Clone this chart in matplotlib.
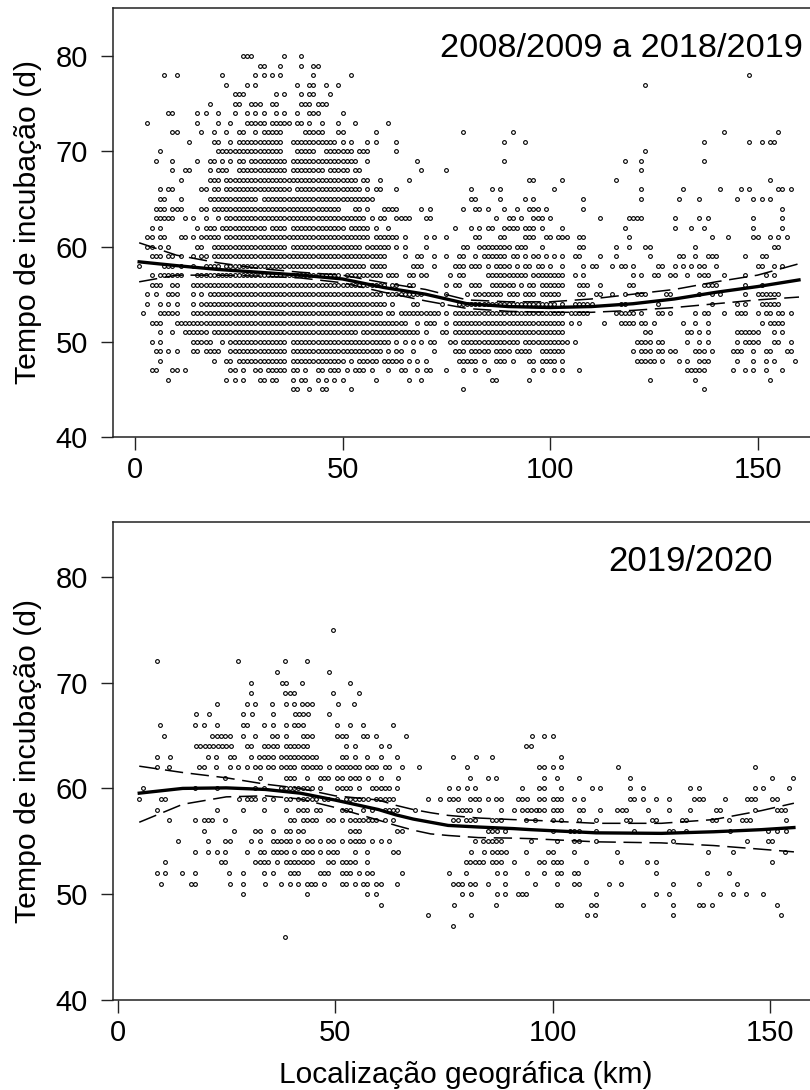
import matplotlib
matplotlib.use("Agg")
from matplotlib import pyplot as plt

plt.rcParams['font.family'] = ['Liberation Sans', 'DejaVu Sans']

# top panel: km positions per incubation-time row, (a, b) is a run of neighbouring km
T45 = [38, 39, 42, 45, 46, 52, 79, 137]
T46 = [8, 22, 24, 26, 30, 31, 33, 34, 38, 40, 41, 44, 46, 48, 50, 58, 66, 69, 86, 87, 95, 124, 135, 153]
T47 = [4, 5, 9, 10, 12, 23, 24, 26, 29, 30, (32, 36), 38, 39, 41, 44, 45, (47, 49), 51, 53, 54, 55, 57, 61, 64, 65, 68,
       70, 71, 75, 79, 82, 85, 96, 98, 101, 103, 107, (133, 137), 144, 147, 149, 152, 156]
T48 = [6, 19, 22, 23, (25, 36), (38, 50), 52, (54, 58), (60, 64), 66, 68, 70, (78, 82), 84, (87, 89), 91, 95, 96,
       (98, 101), 103, (121, 125), 127, 131, 133, (136, 138), 145, 149, 152, 154, 159]
T49 = [5, 6, 8, 10, 14, 15, (17, 20), (23, 36), (38, 59), 61, 63, 64, 67, 72, (77, 79), (81, 85), (87, 90), (92, 95),
       (98, 103), 120, (122, 124), 126, 127, 129, 130, (135, 137), 139, (144, 146), 149, 152, 153, 157, 158]
T50 = [4, 6, (14, 18), 21, (23, 36), (38, 61), 63, 65, 67, 69, 71, 72, 76, 77, (79, 92), (94, 104), 106, (121, 124),
       126, 127, 133, 136, 138, 145, (147, 150), 154, 155, 158]
T51 = [6, 9, (12, 17), (19, 53), (55, 68), 70, 74, 75, (77, 103), 123, 124, 133, 134, 136, 138, (145, 150), 154, 156]
T52 = [(4, 6), (10, 65), 68, (70, 72), 75, (77, 103), 105, 107, 113, (117, 120), 122, 123, 125, 132, 135, 138, 151,
       (153, 156)]
T53 = [2, (6, 10), (14, 59), 61, 62, (64, 73), 75, (77, 103), (105, 109), (116, 120), 122, 126, 127, 129, 135, 137, 138,
       142, (145, 147), 150, 152, 153, 155, 156, 158]
T54 = [3, 6, 8, 10, 14, (16, 60), 62, 67, 68, 74, (78, 101), 103, (106, 110), 117, 118, 126, 139, 145, 147, (151, 155)]
T55 = [3, 5, (8, 10), 14, 16, (18, 59), (61, 69), 75, 80, (82, 88), (90, 92), (94, 96), (98, 102), 107, 108, 111, 112,
       115, 118, (121, 123), 128, 129, 136, 139, 141, 147, (150, 155)]
T56 = [(4, 6), 9, 10, (14, 60), 62, 63, 66, 67, 75, 77, 78, (81, 83), (86, 91), 93, 95, 96, (98, 103), (107, 109), 112,
       119, 120, (137, 140), 147, 151]
T57 = [4, (6, 11), (15, 49), (51, 59), (61, 63), 66, 67, 69, 70, 76, 78, 79, (85, 94), (96, 103), 106, 108, 120, 122,
       125, 126, 129, 130, 133, (136, 138), 142, 147, 152, 154]
T58 = [1, (7, 9), 11, 14, (17, 20), (22, 55), (57, 60), (67, 69), 72, (77, 79), (81, 83), 85, (87, 90), 92, 94, 95, 97,
       98, 100, 103, 108, 110, 111, 115, 117, 118, 120, 126, 127, 130, 132, 134, 136, 137, 140, 150, 151, 154, 156]
T59 = [(4, 6), 8, 9, 11, 14, 16, 17, (19, 60), 65, 68, 69, 72, 75, 78, 79, 82, (84, 89), 91, 92, 94, 96, 97, 99, 101,
       103, 106, 107, 112, 116, 124, 131, 132, 135, (138, 140), 147, 151, 152]
T60 = [3, 4, 6, 8, 15, 16, (19, 36), (38, 54), (56, 61), 63, 65, 70, 79, 80, (83, 90), (92, 94), 98, 107, 108, 116, 119,
       123, 124, 135, 154, 155]
T61 = [3, 4, 6, 7, 11, 12, 14, (16, 20), (22, 56), (58, 63), 65, 70, 72, 75, 82, 83, 88, 89, (94, 96), 99, 100,
       (102, 104), 107, 108, 119, 139, 143, 149, 150, 153, 155, 157]
T62 = [4, 6, 15, (17, 19), (21, 31), (33, 36), (38, 50), (52, 56), 58, 61, 77, 81, 83, 85, 86, (89, 92), (94, 96), 98,
       103, 118, 130, 134, 137, 149, 156]
T63 = [(5, 9), 12, 14, 17, 20, (22, 55), 57, 59, 60, (63, 66), 70, 71, 87, 90, 91, 93, (96, 98), 100, 112, (119, 122),
       130, 136, 138, 149, 156]
T64 = [(5, 7), (9, 11), 16, 17, (19, 49), 53, 54, 56, (60, 63), 69, 71, 79, 82, 83, 85, 89, 92, (95, 97), 99, 108, 156]
T65 = [6, 7, 11, (18, 29), (31, 57), 81, 82, 88, 94, 96, 108, 122, 131, 136, 145, 149, 151, 153]
T66 = [6, 8, 9, 16, 17, 19, 20, (22, 37), (39, 54), 56, 58, 59, 63, 81, 86, 88, 101, 122, 132, 141, 146, 148, 155, 156,
       158]
T67 = [11, (18, 20), (22, 53), 55, 56, 59, 66, 95, 96, 103, 116, 153]
T68 = [9, 12, 13, 18, (20, 22), (25, 36), (38, 45), (47, 51), 53, 54, 69, 75, 122]
T69 = [5, 9, 15, 18, 19, 21, 23, 25, 26, (28, 36), (38, 53), 56, 68, 89, 118, 122, 137]
T70 = [6, (20, 35), (39, 43), (46, 52), (54, 56), 63, 123]
T71 = [13, 19, 20, 23, (25, 35), (38, 48), 50, 52, 56, 58, 63, 89, 94, 137, 148, 151, 153, 154]
T72 = [9, 10, 16, 19, 22, 25, 26, 29, (31, 35), (41, 45), 49, 50, 58, 79, 91, 142, 155]
T73 = [3, 15, 20, 23, (27, 31), (33, 37), 39, 40, 42, 45, 49, 53, 61]
T74 = [8, 9, 15, 17, 20, 24, 27, 29, 31, 34, 36, 39, (42, 44), 50]
T75 = [18, 24, 25, (28, 30), 33, 34, (40, 42), (44, 46)]
T76 = [(24, 26), 34, 36, 40, 42, 43, 47]
T77 = [22, 27, 29, 39, 42, 43, 46, 49, 123]
T78 = [7, 10, 21, 29, 31, 33, 35, 43, 52, 148]
T79 = [30, 31, 35, 40, 43, 44]
T80 = [26, 27, 28, 36, 40]

top_levels = list(range(45, 81))
top_rows = [T45, T46, T47, T48, T49, T50, T51, T52, T53, T54, T55, T56, T57, T58, T59, T60, T61, T62, T63, T64, T65,
            T66, T67, T68, T69, T70, T71, T72, T73, T74, T75, T76, T77, T78, T79, T80]

top_curve_km = [1, 10, 20, 30, 40, 50, 60, 70, 80, 90, 100, 110, 120, 130, 140, 150, 160]
top_mean = [58.4, 58.0, 57.6, 57.3, 57.0, 56.6, 55.7, 55.0, 54.0, 53.7, 53.6, 53.7, 54.0, 54.5, 55.2, 55.8, 56.5]
top_upper = [60.4, 59.1, 58.3, 57.7, 57.3, 57.0, 56.2, 55.5, 54.4, 54.2, 54.2, 54.5, 55.0, 55.5, 56.3, 57.0, 58.2]
top_lower = [56.3, 57.0, 57.0, 56.9, 56.7, 56.2, 55.2, 54.3, 53.5, 53.2, 53.1, 53.1, 53.3, 53.6, 54.0, 54.4, 54.7]

# bottom panel: km positions per row
B46 = [38.6]
B47 = [77.2]
B48 = [71.3, 81.2, 107.9, 109.8, 127.7, 152.5]
B49 = [60.5, 77.3, 87, 101, 102, 108.9, 110, 120.8, 127.7, 133.6, 134.6, 136.6, 151.5]
B50 = [28.8, 43.6, 57.4, 59.4, 79.3, 81.2, 87.2, 89.1, 92.1, 93.1, 94, 110, 123.8, 126.7, 138.5, 141.5, 144.5, 148.5]
B51 = [10, 16.8, 17.8, 25.9, 28.8, 33.8, 37.7, 39.6, 41.6, 43.5, 44.5, 45.5, 47.5, 51.5, 52.5, 54.5, 56.5, 57.4, 59.4,
       60.5, 64.3, 77.2, 78.2, 79.2, 81.1, 82.2, 85.1, 89.1, 95.9, 101, 105, 106, 112.9, 115.8, 127.8, 133.7, 142.5]
B52 = [9, 11, 14.8, 17.9, 25.7, 28.8, 33.7, 35.7, 39.6, 40.6, 41.6, 46.6, 47.5, 48.5, 51.5, 52.5, 53.5, 55.5, 57.4,
       58.4, 65.4, 76.2, 80.2, 87.2, 89.1, 94.1, 98, 101, 102, 105, 105.9, 123.7, 135.6, 140.6]
B53 = [10.9, 23.7, 24.8, 31.7, 32.7, 33.7, 34.7, 36.7, 38.7, 39.6, 40.6, 41.6, 42.6, 43.6, 44.6, 48.5, 49.5, 51.5, 52.5,
       53.5, 54.5, 57.4, 80.2, 81.1, 82.1, 83.1, 84.1, 86.2, 87.1, 88.1, 91.1, 97, 98, 100, 101, 102, 107.8, 115.8,
       121.7, 123.8, 150.4]
B54 = [17.8, 20.8, 22.9, 24.8, 29.7, 32.7, 33.7, 35.7, 36.7, 37.7, 38.7, 40.6, 42.6, 43.6, 44.6, 46.6, 48.5, 49.5, 50.5,
       54.5, 57.4, 63.4, 64.4, 81.2, 84.2, 86.2, 87.2, 88.2, 89.2, 94, 99, 100, 105, 114.8, 135.7, 141.5, 153.5]
B55 = [13.9, 20.8, 24.8, 25.8, 30.8, 32.7, 35.7, 36.7, 37.7, 38.7, 39.6, 41.6, 43.6, 44.6, 46.6, 48.5, 49.5, 51.5, 53.5,
       54.5, 55.5, 56.5, 58.5, 60.5, 62.4, 82.2, 84.1, 85.1, 86.1, 87.1, 88.1, 95, 101, 105, 106, 109.9, 127.7, 144.6,
       149.6, 150.4]
B56 = [19.9, 26.7, 31.7, 32.7, 35.7, 38.7, 39.6, 41.6, 42.6, 53.4, 54.5, 55.5, 64.3, 65.4, 85.2, 86.2, 87.2, 89.1, 100,
       104, 105, 106, 109.9, 118.8, 126.7, 127.7, 130.6, 140.7, 149.6, 151.6, 153.6]
B57 = [11.9, 17.9, 19.9, 20.9, 21.8, 24.8, 39.6, 40.6, 42.6, 43.6, 44.6, 45.6, 48.5, 49.5, 51.5, 53.4, 54.5, 55.5, 56.5,
       57.5, 58.4, 59.4, 61.4, 63.4, 77.2, 78.2, 80.2, 81.1, 82.1, 86.1, 87.1, 88.1, 94, 96, 100, 102, 106, 109.9,
       116.8, 117.8, 122.8, 123.7, 129.7, 130.7, 136.7, 137.7, 140.6, 143.5, 144.5, 145.5, 153.6]
B58 = [9, 22.8, 28.9, 33.7, 38.7, 41.6, 42.6, 43.6, 45.6, 46.6, 51.5, 52.5, 53.4, 56.5, 58.4, 61.4, 62.4, 63.4, 64.3,
       68.3, 78.2, 79.2, 80.2, 81.1, 83.1, 88.1, 91.1, 93.1, 94.1, 95.1, 96.1, 97, 98, 100, 101, 102, 106, 107, 110.9,
       114.9, 115.9, 116.9, 121.9, 126.7, 131.6, 137.6, 138.6, 146.6, 151.5, 152.5, 153.5]
B59 = [5, 10, 11, 27.9, 29.7, 30.7, 31.7, 33.7, 35.7, 38.7, 39.6, 41.6, 42.6, 43.6, 44.6, 45.6, 47.5, 48.5, 50.5, 52.5,
       53.4, 54.5, 55.5, 56.5, 57.5, 59.4, 60.3, 61.4, 62.4, 63.4, 71.3, 74.2, 76.2, 77.2, 78.2, 81.1, 82.1, 83.1, 85.2,
       87.1, 88.1, 92.1, 93.1, 94.1, 97, 98, 100, 101, 102, 105, 107, 117.8, 118.8, 120.8, 123.7, 126.8, 132.6, 133.6,
       134.6, 139.6, 144.6, 145.6, 146.5, 150.5, 151.5]
B60 = [5.9, 17.8, 22.8, 31.7, 33.7, 37.7, 38.7, 39.6, 40.6, 41.6, 42.6, 43.6, 44.6, 46.6, 50.5, 51.5, 52.5, 53.4, 55.5,
       58.4, 59.4, 60.5, 61.4, 62.4, 64.3, 76.2, 78.2, 80.3, 82.2, 93.1, 97, 98, 102, 109, 111, 117.8, 120.8, 131.6,
       133.6, 146.5, 148.5, 154.4]
B61 = [24.8, 32.7, 38.7, 39.6, 40.6, 43.6, 46.6, 47.5, 48.5, 50.5, 51.5, 53.4, 54.5, 55.5, 57.5, 60.5, 64.4, 81.1, 85.1,
       87.1, 98, 101, 106, 117.8, 150.4, 155.4]
B62 = [9, 11.9, 18.8, 19.8, 22.7, 25.8, 27.8, 29.8, 31.7, 32.7, 34.7, 35.7, 37.7, 38.7, 39.6, 40.6, 42.6, 43.6, 44.6,
       45.6, 46.6, 48.6, 50.5, 51.5, 52.5, 53.5, 54.5, 55.5, 57.4, 58.4, 59.4, 61.4, 62.4, 65.4, 69.3, 80.3, 97, 98,
       100, 102, 115, 146.5]
B63 = [9, 12, 20.8, 22.7, 25.8, 26.8, 30.8, 32.6, 33.7, 34.7, 35.7, 37.7, 38.7, 39.6, 40.6, 41.6, 42.6, 43.6, 44.6,
       45.6, 51.5, 52.5, 54.5, 57.4, 60.5, 64.3, 77.2, 82.3, 86.2, 102]
B64 = [18, 19, 20, 21, 22, 23, 24, 25, 26, 29.8, 30.8, 33.7, 34.7, 35.7, 36.6, 38.7, 39.7, 40.6, 41.6, 42.6, 43.6, 52.5,
       54.5, 60.5, 62.4, 94, 95]
B65 = [10.8, 21.8, 22.8, 23.8, 24.8, 25.8, 28.9, 31.7, 35.6, 36.6, 38.7, 42.6, 43.6, 44.6, 50.5, 51.5, 52.5, 56.5, 57.4,
       59.4, 66.4, 95.2, 98.1, 100.2]
B66 = [9.8, 17.9, 19.8, 22.8, 28.8, 29.8, 33.7, 35.7, 38.7, 40.5, 41.6, 42.6, 50.5, 53.4, 56.5, 63.4]
B67 = [18, 21, 28.9, 30.9, 35.8, 40.7, 41.7, 42.7, 43.7, 48.6]
B68 = [22.8, 29.7, 31.7, 35.6, 38.7, 40.6, 42.5, 43.5, 44.6, 50.6, 54.4]
B69 = [30.7, 38.6, 39.6, 40.6, 49.6, 55.5]
B70 = [30.7, 37.8, 38.7, 42.5, 53.5]
B71 = [36.6, 48.6]
B72 = [9, 27.8, 38.6, 43.6]
B75 = [49.5]

bottom_levels = [46, 47, 48, 49, 50, 51, 52, 53, 54, 55, 56, 57, 58, 59, 60, 61, 62, 63, 64, 65, 66, 67, 68, 69, 70, 71,
                 72, 75]
bottom_rows = [B46, B47, B48, B49, B50, B51, B52, B53, B54, B55, B56, B57, B58, B59, B60, B61, B62, B63, B64, B65, B66,
               B67, B68, B69, B70, B71, B72, B75]

bottom_curve_km = [5, 15, 25, 34, 42, 50, 60, 64, 68, 72, 76, 83, 91, 95, 110, 125, 137, 148, 155.5]
bottom_mean = [59.55, 60.0, 60.05, 59.9, 59.55, 58.9, 58.0, 57.5, 57.1, 56.8, 56.5, 56.35, 56.2, 56.1, 55.8, 55.75,
               55.9, 56.1, 56.3]
bottom_upper = [62.1, 61.5, 61.0, 60.4, 60.0, 59.3, 58.9, 58.4, 58.0, 57.7, 57.45, 57.2, 57.05, 57.0, 56.7, 56.7, 57.05,
                57.9, 58.6]
bottom_lower = [56.8, 58.5, 59.2, 59.3, 59.0, 58.2, 57.0, 56.5, 56.05, 55.7, 55.55, 55.35, 55.3, 55.25, 54.95, 54.85,
                54.6, 54.25, 54.0]

x_ticks = [0, 50, 100, 150]
y_ticks = [40, 50, 60, 70, 80]


def expand(row):
    kms = []
    for item in row:
        if isinstance(item, tuple):
            kms.extend(range(item[0], item[1] + 1))
        else:
            kms.append(item)
    return kms


def draw_panel(ax, levels, rows, curve_km, mean, upper, lower):
    for level, row in zip(levels, rows):
        xs = expand(row)
        ax.plot(xs, [level] * len(xs), 'o', mfc='none', mec='k', ms=2.7, mew=0.8)
    ax.plot(curve_km, mean, 'k-', lw=2.4)
    ax.plot(curve_km, upper, 'k', lw=1.1, dashes=(12, 5))
    ax.plot(curve_km, lower, 'k', lw=1.1, dashes=(12, 5))
    ax.set_xticks(x_ticks)
    ax.set_yticks(y_ticks)
    ax.tick_params(length=9, width=1, labelsize=21, color='#222222')
    ax.tick_params(axis='x', pad=5)
    ax.tick_params(axis='y', pad=9)
    for spine in ax.spines.values():
        spine.set_linewidth(1.1)
        spine.set_color('#222222')
    ax.set_ylabel('Tempo de incubação (d)', fontsize=21.8)
    ax.yaxis.set_label_coords(-71 / 699, 0.5)


W, H = 810, 1090
fig = plt.figure(figsize=(W / 100, H / 100), dpi=100)

ax1 = fig.add_axes([113 / W, 1 - 437 / H, 699 / W, 429 / H])
draw_panel(ax1, top_levels, top_rows, top_curve_km, top_mean, top_upper, top_lower)
ax1.set_xlim((113 - 135) / 4.15, (812 - 135) / 4.15)
ax1.set_ylim(40, 40 + 429 / 9.52)
ax1.text(161, 79.88, '2008/2009 a 2018/2019', fontsize=24.7, ha='right', va='baseline')

ax2 = fig.add_axes([113 / W, 1 - 1000 / H, 699 / W, 478 / H])
draw_panel(ax2, bottom_levels, bottom_rows, bottom_curve_km, bottom_mean, bottom_upper, bottom_lower)
ax2.set_xlim((113 - 117.5) / 4.35, (812 - 117.5) / 4.35)
ax2.set_ylim(40, 40 + 478 / 10.58)
ax2.text(150.6, 80.58, '2019/2020', fontsize=25, ha='right', va='baseline')
ax2.set_xlabel('Localização geográfica (km)', fontsize=21.5)
ax2.xaxis.set_label_coords((466 - 113) / 699, -61 / 478)

fig.savefig('out.png', dpi=100)
